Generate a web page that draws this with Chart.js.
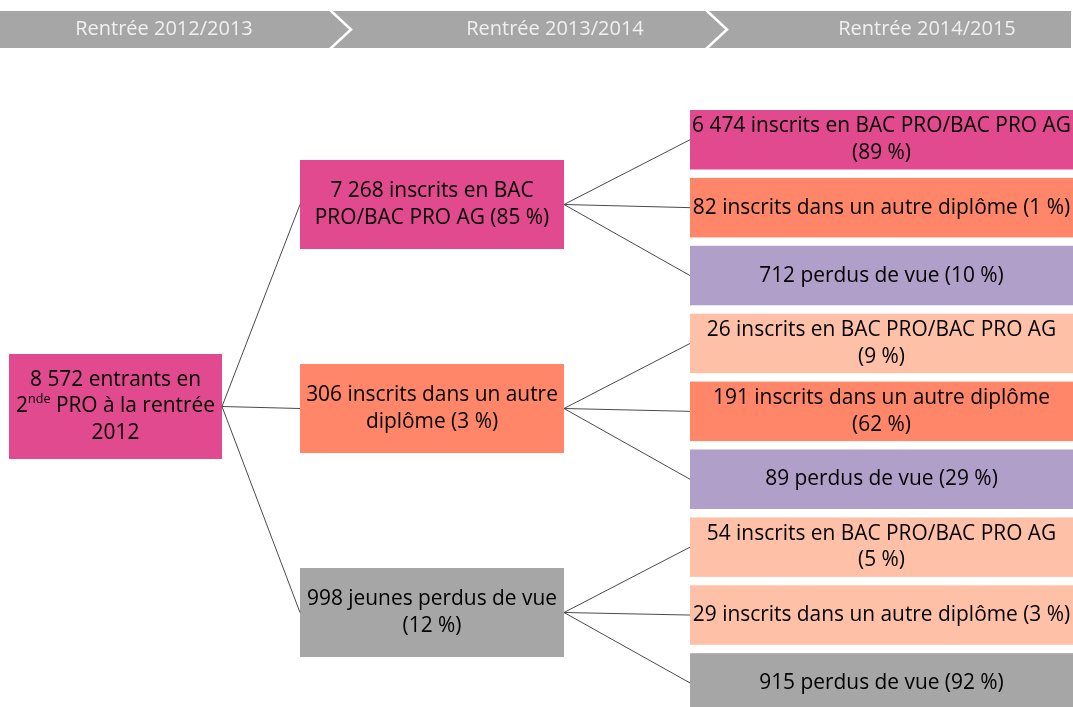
<!DOCTYPE html>
<html>
<head>
<meta charset="utf-8">
<script src="https://cdn.jsdelivr.net/npm/chart.js@4.4.1/dist/chart.umd.min.js"></script>
<style>
    html, body { margin: 0; padding: 0; background: #fff; }
    canvas { display: block; }
</style>
</head>
<body>
<canvas id="tree" width="1073" height="707"></canvas>
<script>
// Data
const YEARS = ["Rentrée 2012/2013", "Rentrée 2013/2014", "Rentrée 2014/2015"];

const ROOT_COUNT = 8572;
const ROOT_LABEL = "entrants en 2^nde PRO à la rentrée 2012";

const L1_COUNTS = [7268, 306, 998];
const L1_PCTS = [85, 3, 12];
const L1_LABELS = ["inscrits en BAC PRO/BAC PRO AG", "inscrits dans un autre diplôme", "jeunes perdus de vue"];

const L2_COUNTS = [6474, 82, 712, 26, 191, 89, 54, 29, 915];
const L2_PCTS = [89, 1, 10, 9, 62, 29, 5, 3, 92];
const L2_LABELS = ["inscrits en BAC PRO/BAC PRO AG", "inscrits dans un autre diplôme", "perdus de vue"];

// Styles
const MAGENTA = "#e14a8f", ORANGE = "#ff8669", LAVENDER = "#b09fc8", PEACH = "#ffc0a8", GREY = "#a6a6a6";
const ROOT_COLOR = MAGENTA;
const L1_COLORS = [MAGENTA, ORANGE, GREY];
const L2_COLORS = [MAGENTA, ORANGE, LAVENDER, PEACH, ORANGE, LAVENDER, PEACH, PEACH, GREY];
const FONT = "'Open Sans', Lato, sans-serif";
const NB = "\u00a0";

const fmt = (n) => String(n).replace(/\B(?=(\d{3})+(?!\d))/g, NB);
const pct = (p) => `(${p}${NB}%)`;

// Box layout (in axis units, 1 unit = 1 px); pad = inner text margin
const root = { x0: 9, x1: 222, y0: 354, y1: 459, pad: 4, text: fmt(ROOT_COUNT) + " " + ROOT_LABEL, color: ROOT_COLOR };
const level1 = L1_COUNTS.map((c, j) => ({
    x0: 300, x1: 564, y0: 160 + 204 * j, y1: 249 + 204 * j, pad: 3,
    text: `${fmt(c)} ${L1_LABELS[j]} ${pct(L1_PCTS[j])}`, color: L1_COLORS[j],
}));
const level2 = L2_COUNTS.map((c, i) => ({
    x0: 690, x1: 1073, y0: 110 + 67.9 * i, y1: 169.5 + 67.9 * i, pad: -4,
    text: `${fmt(c)} ${L2_LABELS[i % 3]} ${pct(L2_PCTS[i])}`, color: L2_COLORS[i],
}));
const boxes = [root, ...level1, ...level2];

const midY = (b) => (b.y0 + b.y1) / 2;
const edges = [];
level1.forEach((b) => edges.push([root.x1, midY(root), b.x0, midY(b)]));
level2.forEach((b, i) => {
    const p = level1[Math.floor(i / 3)];
    edges.push([p.x1, midY(p), b.x0, midY(b)]);
});

const SIZE = 20.9, LINE_H = 26.5;

// a word may hold a superscript part ("2^nde")
function wordWidth(ctx, w) {
    const [base, sup] = w.split("^");
    ctx.font = `${SIZE}px ${FONT}`;
    let width = ctx.measureText(base).width;
    if (sup) {
        ctx.font = `${SIZE * 0.6}px ${FONT}`;
        width += ctx.measureText(sup).width;
    }
    return width;
}

function drawWord(ctx, w, x, y) {
    const [base, sup] = w.split("^");
    ctx.font = `${SIZE}px ${FONT}`;
    ctx.fillText(base, x, y);
    if (sup) {
        const dx = ctx.measureText(base).width;
        ctx.font = `${SIZE * 0.6}px ${FONT}`;
        ctx.fillText(sup, x + dx, y - SIZE * 0.33);
    }
}

function drawBoxText(ctx, b, left, right, top, bottom) {
    const maxW = right - left - 2 * b.pad;
    const space = wordWidth(ctx, " ");
    const lineWidth = (ln) => ln.reduce((s, w) => s + wordWidth(ctx, w), 0) + space * (ln.length - 1);
    const lines = [];
    let cur = [];
    b.text.split(" ").forEach((t) => {
        const test = [...cur, t];
        if (lineWidth(test) > maxW && cur.length) {
            lines.push(cur);
            cur = [t];
        } else cur = test;
    });
    lines.push(cur);
    const cy = (top + bottom) / 2;
    ctx.fillStyle = "#000";
    ctx.textBaseline = "middle";
    ctx.textAlign = "left";
    lines.forEach((ln, k) => {
        const ly = cy + (k - (lines.length - 1) / 2) * LINE_H;
        const total = lineWidth(ln);
        const sq = Math.min(1, (right - left - 4) / total);
        ctx.save();
        ctx.translate((left + right) / 2, ly);
        ctx.scale(sq, 1);
        let x = -total / 2;
        ln.forEach((w) => {
            drawWord(ctx, w, x, 0);
            x += wordWidth(ctx, w) + space;
        });
        ctx.restore();
    });
}

const treePlugin = {
    id: "tree",
    beforeDatasetsDraw(chart) {
        const { ctx, scales: { x, y } } = chart;
        ctx.save();
        // header band with chevrons
        const hy0 = y.getPixelForValue(11), hy1 = y.getPixelForValue(48);
        ctx.fillStyle = "#a6a6a6";
        ctx.fillRect(x.getPixelForValue(0), hy0, x.getPixelForValue(1071) - x.getPixelForValue(0), hy1 - hy0);
        ctx.strokeStyle = "#fff";
        ctx.lineWidth = 2.5;
        [330, 706].forEach((sx) => {
            ctx.beginPath();
            ctx.moveTo(x.getPixelForValue(sx), hy0 - 1);
            ctx.lineTo(x.getPixelForValue(sx + 21), (hy0 + hy1) / 2);
            ctx.lineTo(x.getPixelForValue(sx), hy1 + 1);
            ctx.stroke();
        });
        ctx.fillStyle = "#f0f0f0";
        ctx.font = `20px ${FONT}`;
        ctx.textAlign = "center";
        ctx.textBaseline = "middle";
        [164, 555, 927].forEach((cx, i) => ctx.fillText(YEARS[i], x.getPixelForValue(cx), (hy0 + hy1) / 2));

        // boxes
        boxes.forEach((b) => {
            const l = x.getPixelForValue(b.x0), r = x.getPixelForValue(b.x1);
            const t = y.getPixelForValue(b.y0), btm = y.getPixelForValue(b.y1);
            ctx.fillStyle = b.color;
            ctx.fillRect(l, t, r - l, btm - t);
            drawBoxText(ctx, b, l, r, t, btm);
        });
        ctx.restore();
    },
};

new Chart(document.getElementById("tree"), {
    type: "scatter",
    data: {
        datasets: edges.map((e) => ({
            data: [{ x: e[0], y: e[1] }, { x: e[2], y: e[3] }],
            showLine: true,
            borderColor: "#4a4a4a",
            borderWidth: 1,
            pointRadius: 0,
        })),
    },
    options: {
        responsive: false,
        animation: false,
        layout: { padding: 0 },
        scales: {
            x: { type: "linear", min: 0, max: 1073, display: false },
            y: { min: 0, max: 707, reverse: true, display: false },
        },
        plugins: {
            legend: { display: false },
            tooltip: { enabled: false },
        },
    },
    plugins: [treePlugin],
});
</script>
</body>
</html>
